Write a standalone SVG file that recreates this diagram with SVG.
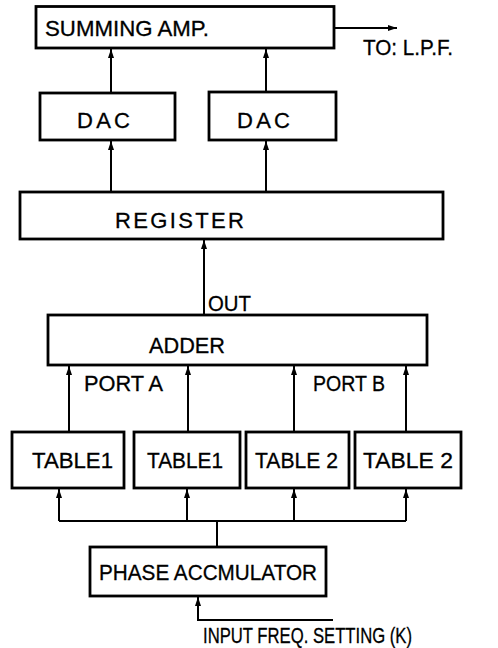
<svg xmlns="http://www.w3.org/2000/svg" width="498" height="648" viewBox="0 0 498 648">
<style>
.box{fill:#fff;stroke:#000;stroke-width:2.8}
.t{font-family:"Liberation Sans",Arial,sans-serif;font-size:22px;fill:#000;stroke:#000;stroke-width:0.3}
.c{fill:none;stroke:#000;stroke-width:2}
</style>
<defs>
<marker id="ah" viewBox="0 0 9 7" refX="9" refY="3.5" markerWidth="9" markerHeight="7" markerUnits="userSpaceOnUse" orient="auto">
<path d="M0,0.5 L9,3.5 L0,6.5 Z" fill="#000"/>
</marker>
</defs>
<rect width="498" height="648" fill="#fff"/>
<g id="connectors">
<line class="c" x1="111" y1="93" x2="111" y2="49" marker-end="url(#ah)"/>
<line class="c" x1="266" y1="92" x2="266" y2="49" marker-end="url(#ah)"/>
<line class="c" x1="111" y1="192" x2="111" y2="141" marker-end="url(#ah)"/>
<line class="c" x1="266" y1="192" x2="266" y2="141" marker-end="url(#ah)"/>
<line class="c" x1="204" y1="315" x2="204" y2="240" marker-end="url(#ah)"/>
<line class="c" x1="69" y1="432" x2="69" y2="366" marker-end="url(#ah)"/>
<line class="c" x1="188" y1="432" x2="188" y2="366" marker-end="url(#ah)"/>
<line class="c" x1="294" y1="432" x2="294" y2="366" marker-end="url(#ah)"/>
<line class="c" x1="406" y1="432" x2="406" y2="366" marker-end="url(#ah)"/>
<line class="c" x1="217" y1="547" x2="217" y2="521"/>
<line class="c" x1="59" y1="521" x2="406" y2="521"/>
<line class="c" x1="59" y1="521" x2="59" y2="489" marker-end="url(#ah)"/>
<line class="c" x1="187" y1="521" x2="187" y2="489" marker-end="url(#ah)"/>
<line class="c" x1="294" y1="521" x2="294" y2="489" marker-end="url(#ah)"/>
<line class="c" x1="406" y1="521" x2="406" y2="489" marker-end="url(#ah)"/>
<polyline class="c" points="333,620 198,620 198,597" marker-end="url(#ah)"/>
<line class="c" x1="334" y1="28" x2="397" y2="28" marker-end="url(#ah)"/>
<text class="t" x="363" y="55" font-size="23" textLength="90" lengthAdjust="spacingAndGlyphs">TO: L.P.F.</text>
<text class="t" x="208" y="311" font-size="23" textLength="43" lengthAdjust="spacingAndGlyphs">OUT</text>
<text class="t" x="84" y="391" textLength="79" lengthAdjust="spacingAndGlyphs">PORT A</text>
<text class="t" x="313" y="391" textLength="72" lengthAdjust="spacingAndGlyphs">PORT B</text>
<text class="t" x="203" y="643" font-size="23" textLength="209" lengthAdjust="spacingAndGlyphs">INPUT FREQ. SETTING (K)</text>
</g>
<g id="summing-amp">
<rect class="box" x="36" y="6.5" width="298" height="41.5"/>
<text class="t" x="45" y="36" textLength="164" lengthAdjust="spacingAndGlyphs">SUMMING AMP.</text>
</g>
<g id="dac1">
<rect class="box" x="40" y="93" width="135" height="47"/>
<text class="t" x="77" y="128" textLength="53" lengthAdjust="spacing">DAC</text>
</g>
<g id="dac2">
<rect class="box" x="209" y="92" width="127" height="48"/>
<text class="t" x="237" y="128" textLength="53" lengthAdjust="spacing">DAC</text>
</g>
<g id="register">
<rect class="box" x="20" y="192" width="423" height="47"/>
<text class="t" x="115" y="228" font-size="24" textLength="129" lengthAdjust="spacing">REGISTER</text>
</g>
<g id="adder">
<rect class="box" x="48" y="315" width="379" height="50"/>
<text class="t" x="149" y="353" font-size="23" textLength="76" lengthAdjust="spacingAndGlyphs">ADDER</text>
</g>
<g id="table1a">
<rect class="box" x="12" y="432" width="112" height="56"/>
<text class="t" x="32" y="468" textLength="81" lengthAdjust="spacingAndGlyphs">TABLE1</text>
</g>
<g id="table1b">
<rect class="box" x="134" y="432" width="106" height="56"/>
<text class="t" x="147" y="468" textLength="76" lengthAdjust="spacingAndGlyphs">TABLE1</text>
</g>
<g id="table2a">
<rect class="box" x="246" y="432" width="103" height="56"/>
<text class="t" x="255" y="468" textLength="83" lengthAdjust="spacingAndGlyphs">TABLE 2</text>
</g>
<g id="table2b">
<rect class="box" x="355" y="432" width="106" height="56"/>
<text class="t" x="363" y="468" textLength="90" lengthAdjust="spacingAndGlyphs">TABLE 2</text>
</g>
<g id="phase-accumulator">
<rect class="box" x="90" y="547" width="236" height="49"/>
<text class="t" x="99" y="580" textLength="218" lengthAdjust="spacingAndGlyphs">PHASE ACCMULATOR</text>
</g>
</svg>
